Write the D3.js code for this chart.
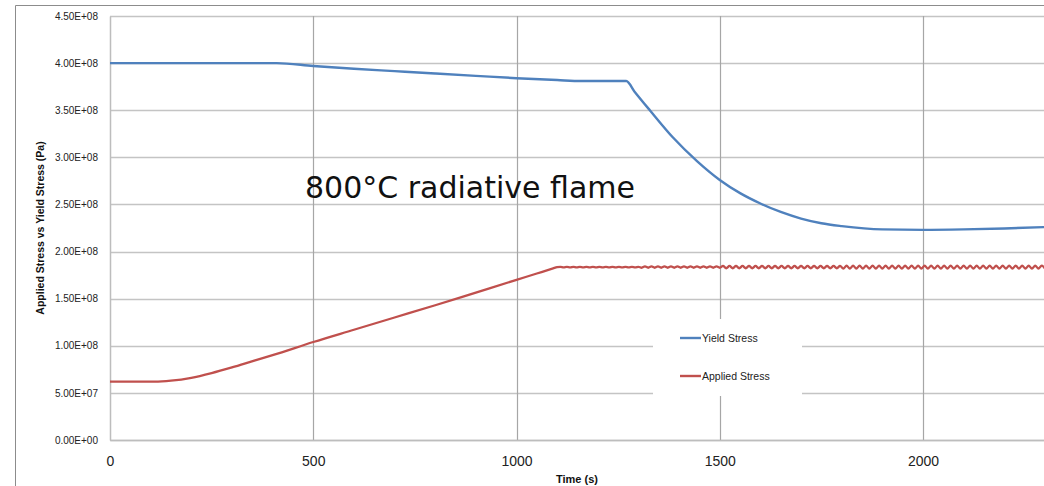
<!DOCTYPE html>
<html><head><meta charset="utf-8">
<script src="https://cdn.jsdelivr.net/npm/d3@7"></script>
<style>
html,body{margin:0;padding:0;background:#fff;overflow:hidden}
svg{display:block}
</style></head>
<body>
<svg id="chart" width="1044" height="486"></svg>
<script>
// ---- data ----
const yTicks = [0, 0.5e8, 1.0e8, 1.5e8, 2.0e8, 2.5e8, 3.0e8, 3.5e8, 4.0e8, 4.5e8];
const xTicks = [0, 500, 1000, 1500, 2000];
const seriesNames = ["Yield Stress", "Applied Stress"];
const titleText = "800°C radiative flame";

const yieldTime  = [0, 410, 500, 600, 700, 800, 900, 1000, 1100, 1160, 1250, 1270, 1290, 1328, 1385, 1444, 1500, 1550, 1600, 1650, 1700, 1750, 1800, 1900, 2000, 2100, 2200, 2300];
const yieldValue = [4.0e8, 4.0e8, 3.97e8, 3.94e8, 3.915e8, 3.89e8, 3.865e8, 3.84e8, 3.82e8, 3.81e8, 3.81e8, 3.81e8, 3.70e8, 3.50e8, 3.21e8, 2.96e8, 2.76e8, 2.62e8, 2.51e8, 2.42e8, 2.35e8, 2.30e8, 2.27e8, 2.235e8, 2.23e8, 2.235e8, 2.245e8, 2.26e8];

const appliedRiseTime  = [0, 110, 150, 200, 250, 300, 357, 400, 500, 600, 700, 800, 900, 1000, 1050, 1090, 1100];
const appliedRiseValue = [0.62e8, 0.62e8, 0.63e8, 0.66e8, 0.71e8, 0.77e8, 0.845e8, 0.90e8, 1.04e8, 1.17e8, 1.30e8, 1.43e8, 1.565e8, 1.70e8, 1.767e8, 1.821e8, 1.835e8];

const appliedFlatTime = [1108,1116,1124,1132,1140,1148,1156,1164,1172,1180,1188,1196,1204,1212,1220,1228,1236,1244,1252,1260,1268,1276,1284,1292,1300,
1308,1316,1324,1332,1340,1348,1356,1364,1372,1380,1388,1396,1404,1412,1420,1428,1436,1444,1452,1460,1468,1476,1484,1492,1500,
1508,1516,1524,1532,1540,1548,1556,1564,1572,1580,1588,1596,1604,1612,1620,1628,1636,1644,1652,1660,1668,1676,1684,1692,1700,1708,1716,1724,1732,1740,1748,1756,1764,1772,1780,1788,1796,
1804,1812,1820,1828,1836,1844,1852,1860,1868,1876,1884,1892,1900,1908,1916,1924,1932,1940,1948,1956,1964,1972,1980,1988,1996,2004,2012,2020,2028,2036,2044,2052,2060,2068,2076,2084,2092,2100,2108,2116,2124,2132,2140,2148,2156,2164,2172,2180,2188,2196,2204,2212,2220,2228,2236,2244,2252,2260,2268,2276,2284,2292,2300];
const appliedFlatValue = [
1.838e8,1.832e8,1.838e8,1.832e8,1.838e8,1.832e8,1.838e8,1.832e8,1.838e8,1.832e8,1.838e8,1.832e8,1.838e8,1.832e8,1.838e8,1.832e8,1.838e8,1.832e8,1.838e8,1.832e8,1.838e8,1.832e8,1.838e8,1.832e8,1.838e8,
1.828e8,1.842e8,1.828e8,1.842e8,1.828e8,1.842e8,1.828e8,1.842e8,1.828e8,1.842e8,1.828e8,1.842e8,1.828e8,1.842e8,1.828e8,1.842e8,1.828e8,1.842e8,1.828e8,1.842e8,1.828e8,1.842e8,1.828e8,1.842e8,1.828e8,
1.847e8,1.823e8,1.847e8,1.823e8,1.847e8,1.823e8,1.847e8,1.823e8,1.847e8,1.823e8,1.847e8,1.823e8,1.847e8,1.823e8,1.847e8,1.823e8,1.847e8,1.823e8,1.847e8,1.823e8,1.847e8,1.823e8,1.847e8,1.823e8,1.847e8,1.823e8,1.847e8,1.823e8,1.847e8,1.823e8,1.847e8,1.823e8,1.847e8,1.823e8,1.847e8,1.823e8,1.847e8,
1.820e8,1.850e8,1.820e8,1.850e8,1.820e8,1.850e8,1.820e8,1.850e8,1.820e8,1.850e8,1.820e8,1.850e8,1.820e8,1.850e8,1.820e8,1.850e8,1.820e8,1.850e8,1.820e8,1.850e8,1.820e8,1.850e8,1.820e8,1.850e8,1.820e8,1.850e8,1.820e8,1.850e8,1.820e8,1.850e8,1.820e8,1.850e8,1.820e8,1.850e8,1.820e8,1.850e8,1.820e8,1.850e8,1.820e8,1.850e8,1.820e8,1.850e8,1.820e8,1.850e8,1.820e8,1.850e8,1.820e8,1.850e8,1.820e8,1.850e8,1.820e8,1.850e8,1.820e8,1.850e8,1.820e8,1.850e8,1.820e8,1.850e8,1.820e8,1.850e8,1.820e8,1.850e8,1.820e8];

// ---- build series ----
const yieldData = yieldTime.map((t, i) => ({t, v: yieldValue[i]}));
const appliedData = appliedRiseTime.map((t, i) => ({t, v: appliedRiseValue[i]}))
  .concat(appliedFlatTime.map((t, i) => ({t, v: appliedFlatValue[i]})));

// ---- layout ----
const svg = d3.select("#chart");
const L = 110, T = 16, B = 440;
const x = d3.scaleLinear().domain([0, 2500]).range([L, L + 0.4065 * 2500]);
const y = d3.scaleLinear().domain([0, 4.5e8]).range([B, T]);
const W = 1044;

const blue = "#4F81BD", red = "#C0504D";

// outer chart frame
svg.append("line").attr("x1", 15.5).attr("x2", 15.5).attr("y1", 5.5).attr("y2", 486).attr("stroke", "#8c8c8c");
svg.append("line").attr("x1", 15.5).attr("x2", W).attr("y1", 5.5).attr("y2", 5.5).attr("stroke", "#8c8c8c");

// horizontal gridlines
svg.append("g").selectAll("line").data(yTicks).join("line")
  .attr("x1", L).attr("x2", W)
  .attr("y1", d => Math.round(y(d)) + 0.5).attr("y2", d => Math.round(y(d)) + 0.5)
  .attr("stroke", "#c4c4c4").attr("stroke-width", 1.3);

// vertical gridlines
svg.append("g").selectAll("line").data(xTicks.filter(d => d > 0)).join("line")
  .attr("x1", d => Math.round(x(d)) + 0.5).attr("x2", d => Math.round(x(d)) + 0.5)
  .attr("y1", T).attr("y2", B)
  .attr("stroke", "#a6a6a6").attr("stroke-width", 1.2);

// axes
const yAxis = d3.axisLeft(y).tickValues(yTicks).tickSize(0).tickPadding(12)
  .tickFormat(d => d === 0 ? "0.00E+00" : d.toExponential(2).toUpperCase().replace(/E\+(\d)$/, "E+0$1"));
const gy = svg.append("g").attr("transform", `translate(${L},0)`).call(yAxis);
gy.select(".domain").attr("stroke", "#bdbdbd").attr("stroke-width", 1.5);
gy.selectAll("text").attr("font-family", "Liberation Sans, Arial, sans-serif").attr("font-size", 10).attr("fill", "#222");

const xAxis = d3.axisBottom(x).tickValues(xTicks).tickSize(0).tickPadding(16).tickFormat(d3.format("d"));
const gx = svg.append("g").attr("transform", `translate(0,${B})`).call(xAxis);
gx.select(".domain").attr("stroke", "#bdbdbd").attr("stroke-width", 1.5);
gx.selectAll("text").attr("font-family", "Liberation Sans, Arial, sans-serif").attr("font-size", 14).attr("fill", "#222");

// axis titles
svg.append("text").attr("x", 577).attr("y", 483).attr("text-anchor", "middle")
  .attr("font-family", "Liberation Sans, Arial, sans-serif").attr("font-size", 11).attr("font-weight", "bold").attr("fill", "#111")
  .text("Time (s)");
svg.append("text").attr("transform", "translate(44,228) rotate(-90)").attr("text-anchor", "middle")
  .attr("font-family", "Liberation Sans, Arial, sans-serif").attr("font-size", 10.5).attr("font-weight", "bold").attr("fill", "#111")
  .text("Applied Stress vs Yield Stress (Pa)");

// lines
svg.append("path").datum(yieldData).attr("fill", "none").attr("stroke", blue).attr("stroke-width", 2.4)
  .attr("d", d3.line().x(d => x(d.t)).y(d => y(d.v)).curve(d3.curveMonotoneX));
svg.append("path").datum(appliedData).attr("fill", "none").attr("stroke", red).attr("stroke-width", 2.3)
  .attr("d", d3.line().x(d => x(d.t)).y(d => y(d.v)).curve(d3.curveMonotoneX));

// annotation
svg.append("text").attr("x", 305).attr("y", 198)
  .attr("font-family", "DejaVu Sans, sans-serif").attr("font-size", 30).attr("fill", "#111")
  .text(titleText);

// legend
const lg = svg.append("g").attr("transform", "translate(653,319)");
lg.append("rect").attr("width", 149).attr("height", 77).attr("fill", "#fff");
const colors = [blue, red];
const rows = lg.selectAll("g").data(seriesNames).join("g")
  .attr("transform", (d, i) => `translate(0,${19 + i * 38})`);
rows.append("line").attr("x1", 27).attr("x2", 48).attr("y1", 0).attr("y2", 0)
  .attr("stroke", (d, i) => colors[i]).attr("stroke-width", 2.4);
rows.append("text").attr("x", 49).attr("y", 0).attr("dy", "0.35em")
  .attr("font-family", "Liberation Sans, Arial, sans-serif").attr("font-size", 10.5).attr("fill", "#222")
  .text(d => d);
</script>
</body></html>
